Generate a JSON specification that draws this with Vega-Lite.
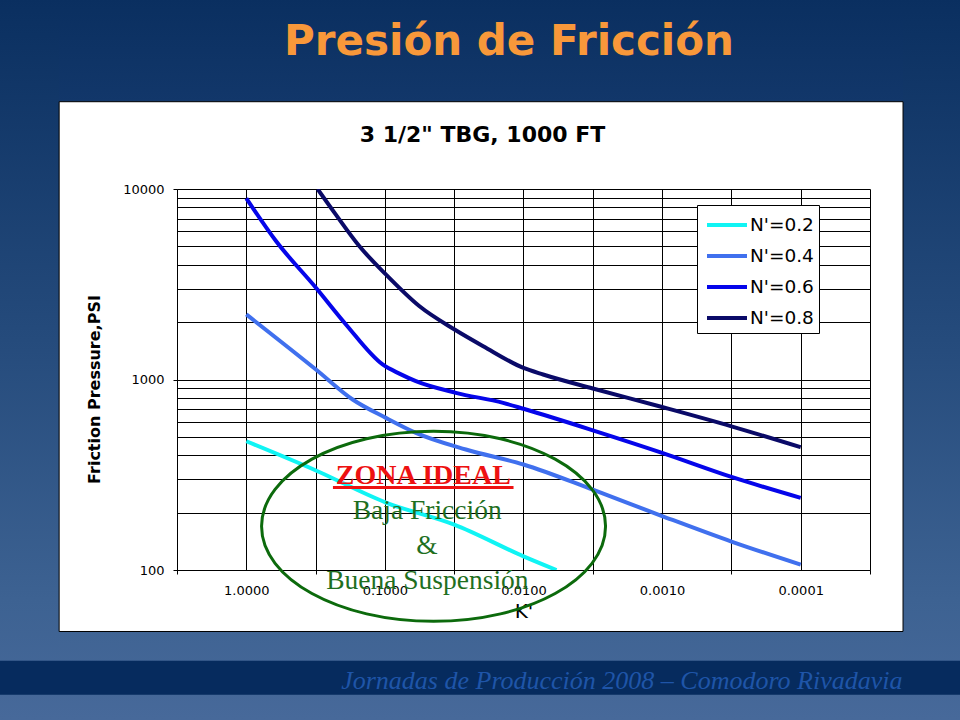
{
  "$schema": "https://vega.github.io/schema/vega-lite/v6.json",
  "width": 693,
  "height": 381,
  "autosize": {"type": "none"},
  "padding": {"left": 177, "top": 189, "right": 90, "bottom": 150},
  "background": "#ffffff",
  "config": {
    "view": {"stroke": null, "fill": null},
    "font": "DejaVu Sans",
    "axis": {"labelFont": "DejaVu Sans", "titleFont": "DejaVu Sans"}
  },
  "resolve": {"axis": {"y": "independent"}},
  "title": {
    "text": "Presión de Fricción",
    "font": "DejaVu Sans",
    "fontSize": 42,
    "fontWeight": "bold",
    "color": "#f8983a",
    "anchor": "middle",
    "frame": "group",
    "baseline": "alphabetic",
    "offset": 0,
    "dx": -14.5,
    "dy": 98,
    "zindex": 1
  },
  "layer": [
    {
      "data": {"values": [{}]},
      "mark": {
        "type": "rect", "clip": false,
        "fill": {"gradient": "linear", "x1": 0, "y1": 0, "x2": 0, "y2": 1,
          "stops": [{"offset": 0, "color": "#0a2f60"}, {"offset": 1, "color": "#12376a"}]}
      },
      "encoding": {
        "x": {"datum": 100, "type": "quantitative", "scale": {"type": "log", "domain": [0.00003162277, 3.1622777], "reverse": true, "nice": false}, "axis": null},
        "x2": {"datum": 0.000001},
        "y": {"datum": 100000, "type": "quantitative", "scale": {"type": "log", "domain": [100, 10000], "nice": false}, "axis": null},
        "y2": {"datum": 28723}
      }
    },
    {
      "data": {"values": [{}]},
      "mark": {
        "type": "rect", "clip": false,
        "fill": {"gradient": "linear", "x1": 0, "y1": 0, "x2": 0, "y2": 1,
          "stops": [{"offset": 0, "color": "#406494"}, {"offset": 0.685, "color": "#47699a"}, {"offset": 1, "color": "#4a6b9c"}]}
      },
      "encoding": {
        "x": {"datum": 100, "type": "quantitative", "scale": {"type": "log", "domain": [0.00003162277, 3.1622777], "reverse": true, "nice": false}, "axis": null},
        "x2": {"datum": 0.000001},
        "y": {"datum": 47.56, "type": "quantitative", "scale": {"type": "log", "domain": [100, 10000], "nice": false}, "axis": null},
        "y2": {"datum": 10}
      }
    },
    {
      "data": {"values": [{}]},
      "mark": {
        "type": "rect", "clip": false,
        "fill": {"gradient": "linear", "x1": 0, "y1": 0, "x2": 0, "y2": 1,
          "stops": [{"offset": 0, "color": "#0a2f60"}, {"offset": 0.4475, "color": "#254b7c"}, {"offset": 0.789, "color": "#3d6292"}, {"offset": 0.9467, "color": "#47699a"}, {"offset": 1, "color": "#4a6b9c"}]}
      },
      "encoding": {
        "x": {"datum": 100, "type": "quantitative", "scale": {"type": "log", "domain": [0.00003162277, 3.1622777], "reverse": true, "nice": false}, "axis": null},
        "x2": {"datum": 22.41},
        "y": {"datum": 100000, "type": "quantitative", "scale": {"type": "log", "domain": [100, 10000], "nice": false}, "axis": null},
        "y2": {"datum": 10}
      }
    },
    {
      "data": {"values": [{}]},
      "mark": {
        "type": "rect", "clip": false,
        "fill": {"gradient": "linear", "x1": 0, "y1": 0, "x2": 0, "y2": 1,
          "stops": [{"offset": 0, "color": "#0a2f60"}, {"offset": 0.4475, "color": "#254b7c"}, {"offset": 0.789, "color": "#3d6292"}, {"offset": 0.9467, "color": "#47699a"}, {"offset": 1, "color": "#4a6b9c"}]}
      },
      "encoding": {
        "x": {"datum": 0.00001827, "type": "quantitative", "scale": {"type": "log", "domain": [0.00003162277, 3.1622777], "reverse": true, "nice": false}, "axis": null},
        "x2": {"datum": 0.000001},
        "y": {"datum": 100000, "type": "quantitative", "scale": {"type": "log", "domain": [100, 10000], "nice": false}, "axis": null},
        "y2": {"datum": 10}
      }
    },
    {
      "data": {"values": [{}]},
      "mark": {"type": "rect", "clip": false, "fill": "#062b5e"},
      "encoding": {
        "x": {"datum": 100, "type": "quantitative", "scale": {"type": "log", "domain": [0.00003162277, 3.1622777], "reverse": true, "nice": false}, "axis": null},
        "x2": {"datum": 0.000001},
        "y": {"datum": 33.37, "type": "quantitative", "scale": {"type": "log", "domain": [100, 10000], "nice": false}, "axis": null},
        "y2": {"datum": 22.12}
      }
    },
    {
      "data": {"values": [{}]},
      "mark": {"type": "text", "clip": false, "text": "Jornadas de Producción 2008 – Comodoro Rivadavia", "font": "Liberation Serif", "fontStyle": "italic", "fontSize": 26, "color": "#1f55a8", "align": "right", "baseline": "alphabetic"},
      "encoding": {
        "x": {"datum": 0.00001842, "type": "quantitative", "scale": {"type": "log", "domain": [0.00003162277, 3.1622777], "reverse": true, "nice": false}, "axis": null},
        "y": {"datum": 23.78, "type": "quantitative", "scale": {"type": "log", "domain": [100, 10000], "nice": false}, "axis": null}
      }
    },
    {
      "data": {"values": [{}]},
      "mark": {"type": "rect", "clip": false, "fill": "transparent", "stroke": "#000000", "strokeWidth": 1},
      "encoding": {
        "x": {"datum": 22.41, "type": "quantitative", "scale": {"type": "log", "domain": [0.00003162277, 3.1622777], "reverse": true, "nice": false}, "axis": null},
        "x2": {"datum": 0.00001827},
        "y": {"datum": 28723, "type": "quantitative", "scale": {"type": "log", "domain": [100, 10000], "nice": false}, "axis": null},
        "y2": {"datum": 47.56}
      }
    },
    {
      "data": {
        "values": [
          {"series": "N'=0.2", "k": 1, "p": 474},
          {"series": "N'=0.2", "k": 0.3145, "p": 333},
          {"series": "N'=0.2", "k": 0.0984, "p": 226},
          {"series": "N'=0.2", "k": 0.0316, "p": 173},
          {"series": "N'=0.2", "k": 0.01, "p": 118},
          {"series": "N'=0.2", "k": 0.00578, "p": 100},
          {"series": "N'=0.4", "k": 1, "p": 2196},
          {"series": "N'=0.4", "k": 0.3145, "p": 1128},
          {"series": "N'=0.4", "k": 0.1709, "p": 785},
          {"series": "N'=0.4", "k": 0.0984, "p": 629},
          {"series": "N'=0.4", "k": 0.05976, "p": 525},
          {"series": "N'=0.4", "k": 0.02606, "p": 429},
          {"series": "N'=0.4", "k": 0.01, "p": 358},
          {"series": "N'=0.4", "k": 0.00316, "p": 264},
          {"series": "N'=0.4", "k": 0.001, "p": 192},
          {"series": "N'=0.4", "k": 0.000316, "p": 141},
          {"series": "N'=0.4", "k": 0.0001, "p": 106.6},
          {"series": "N'=0.6", "k": 1, "p": 8930},
          {"series": "N'=0.6", "k": 0.6107, "p": 5330},
          {"series": "N'=0.6", "k": 0.3145, "p": 3030},
          {"series": "N'=0.6", "k": 0.1911, "p": 1945},
          {"series": "N'=0.6", "k": 0.1039, "p": 1199},
          {"series": "N'=0.6", "k": 0.07793, "p": 1070},
          {"series": "N'=0.6", "k": 0.05976, "p": 980},
          {"series": "N'=0.6", "k": 0.03076, "p": 851},
          {"series": "N'=0.6", "k": 0.01403, "p": 754},
          {"series": "N'=0.6", "k": 0.01, "p": 702},
          {"series": "N'=0.6", "k": 0.00316, "p": 541},
          {"series": "N'=0.6", "k": 0.001, "p": 412},
          {"series": "N'=0.6", "k": 0.000316, "p": 308},
          {"series": "N'=0.6", "k": 0.0001, "p": 239},
          {"series": "N'=0.8", "k": 0.306, "p": 10000},
          {"series": "N'=0.8", "k": 0.2293, "p": 7450},
          {"series": "N'=0.8", "k": 0.1532, "p": 5020},
          {"series": "N'=0.8", "k": 0.0984, "p": 3560},
          {"series": "N'=0.8", "k": 0.05657, "p": 2430},
          {"series": "N'=0.8", "k": 0.03144, "p": 1830},
          {"series": "N'=0.8", "k": 0.01955, "p": 1496},
          {"series": "N'=0.8", "k": 0.01, "p": 1150},
          {"series": "N'=0.8", "k": 0.00722, "p": 1062},
          {"series": "N'=0.8", "k": 0.00316, "p": 897},
          {"series": "N'=0.8", "k": 0.001, "p": 717},
          {"series": "N'=0.8", "k": 0.000316, "p": 568},
          {"series": "N'=0.8", "k": 0.0001, "p": 441}
        ]
      },
      "mark": {"type": "line", "strokeWidth": 4, "clip": true, "interpolate": "monotone"},
      "encoding": {
        "x": {
          "field": "k",
          "type": "quantitative",
          "scale": {"type": "log", "domain": [0.00003162277, 3.1622777], "reverse": true, "nice": false},
          "axis": {
            "orient": "bottom",
            "values": [3.162277, 1, 0.3162278, 0.1, 0.03162278, 0.01, 0.003162278, 0.001, 0.0003162278, 0.0001, 0.00003162278],
            "grid": true,
            "gridColor": "#000000",
            "gridOpacity": 1,
            "gridWidth": 1,
            "domainColor": "#000000",
            "domainWidth": 1,
            "tickColor": "#000000",
            "tickSize": 4,
            "tickOpacity": {"condition": {"test": "abs(log(datum.value)/LN10 - round(log(datum.value)/LN10)) < 0.01", "value": 0}, "value": 1},
            "labelExpr": "abs(log(datum.value)/LN10 - round(log(datum.value)/LN10)) < 0.01 ? format(datum.value, '.4f') : ''",
            "labelFontSize": 13,
            "labelColor": "#000000",
            "labelPadding": 10,
            "labelOverlap": false,
            "labelFlush": false,
            "labelBound": false,
            "title": "K'",
            "titleFontSize": 20,
            "titleFontWeight": "normal",
            "titleColor": "#000000",
            "titlePadding": 4
          }
        },
        "y": {
          "field": "p",
          "type": "quantitative",
          "scale": {"type": "log", "domain": [100, 10000], "nice": false},
          "axis": {
            "orient": "left",
            "values": [100, 200, 300, 400, 500, 600, 700, 800, 900, 1000, 2000, 3000, 4000, 5000, 6000, 7000, 8000, 9000, 10000],
            "grid": true,
            "gridColor": "#000000",
            "gridOpacity": 1,
            "gridWidth": 1,
            "domainColor": "#000000",
            "tickColor": "#000000",
            "tickSize": 4,
            "tickOpacity": {"condition": {"test": "abs(log(datum.value)/LN10 - round(log(datum.value)/LN10)) < 0.01", "value": 1}, "value": 0},
            "labelExpr": "abs(log(datum.value)/LN10 - round(log(datum.value)/LN10)) < 0.01 ? format(datum.value, 'd') : ''",
            "labelFontSize": 13,
            "labelColor": "#000000",
            "labelPadding": 9,
            "labelOverlap": false,
            "labelBound": false,
            "title": "Friction Pressure,PSI",
            "titleFontSize": 16,
            "titleFontWeight": "bold",
            "titleColor": "#000000",
            "titlePadding": 20,
            "titleY": 200
          }
        },
        "color": {
          "field": "series",
          "type": "nominal",
          "scale": {"domain": ["N'=0.2", "N'=0.4", "N'=0.6", "N'=0.8"], "range": ["#10f4f4", "#4070ee", "#0505ea", "#0a0a68"]},
          "legend": {
            "orient": "none",
            "legendX": 520,
            "legendY": 16,
            "title": null,
            "fillColor": "#ffffff",
            "strokeColor": "#000000",
            "padding": 5,
            "symbolType": "M-1.538,0H1.538",
            "symbolSize": 676,
            "symbolStrokeWidth": 4,
            "symbolFillColor": "transparent",
            "symbolOffset": 10,
            "labelFont": "DejaVu Sans",
            "labelFontSize": 18.5,
            "labelColor": "#000000",
            "labelOffset": 8,
            "rowPadding": 6
          }
        }
      }
    },
    {
      "data": {"values": [{}]},
      "mark": {"type": "point", "clip": false, "shape": "M-1,0A1,0.5523,0,1,1,1,0A1,0.5523,0,1,1,-1,0Z", "size": 118336, "filled": false, "stroke": "#0c6a0c", "strokeWidth": 3, "opacity": 1},
      "encoding": {
        "x": {"datum": 0.04456, "type": "quantitative", "scale": {"type": "log", "domain": [0.00003162277, 3.1622777], "reverse": true, "nice": false}, "axis": null},
        "y": {"datum": 169.5, "type": "quantitative", "scale": {"type": "log", "domain": [100, 10000], "nice": false}, "axis": null}
      }
    },
    {
      "data": {"values": [{}]},
      "mark": {"type": "rule", "clip": false, "color": "#ee1111", "strokeWidth": 3},
      "encoding": {
        "x": {"datum": 0.2371, "type": "quantitative", "scale": {"type": "log", "domain": [0.00003162277, 3.1622777], "reverse": true, "nice": false}, "axis": null},
        "x2": {"datum": 0.0118},
        "y": {"datum": 270.7, "type": "quantitative", "scale": {"type": "log", "domain": [100, 10000], "nice": false}, "axis": null}
      }
    },
    {
      "data": {"values": [{}]},
      "mark": {"type": "text", "clip": false, "text": "ZONA IDEAL", "font": "Liberation Serif", "fontWeight": "bold", "fontSize": 28, "color": "#ee1111", "align": "center", "baseline": "alphabetic"},
      "encoding": {
        "x": {
          "datum": 0.05278,
          "type": "quantitative",
          "scale": {"type": "log", "domain": [0.00003162277, 3.1622777], "reverse": true, "nice": false},
          "axis": {
            "orient": "top",
            "title": "3 1/2\" TBG, 1000 FT",
            "labels": false,
            "ticks": false,
            "domain": false,
            "grid": false,
            "titleFont": "DejaVu Sans",
            "titleFontSize": 22,
            "titleFontWeight": "bold",
            "titleColor": "#000000",
            "titleX": 305,
            "titleY": -48,
            "titleAlign": "center",
            "titleBaseline": "alphabetic"
          }
        },
        "y": {"datum": 283, "type": "quantitative", "scale": {"type": "log", "domain": [100, 10000], "nice": false}, "axis": null}
      }
    },
    {
      "data": {
        "values": [
          {"label": "Baja Fricción", "k": 0.04955, "p": 185.4},
          {"label": "&", "k": 0.0497, "p": 121.4},
          {"label": "Buena Suspensión", "k": 0.0494, "p": 79.75}
        ]
      },
      "mark": {"type": "text", "clip": false, "font": "Liberation Serif", "fontSize": 27.5, "color": "#1f6f1f", "align": "center", "baseline": "alphabetic"},
      "encoding": {
        "x": {"field": "k", "type": "quantitative", "scale": {"type": "log", "domain": [0.00003162277, 3.1622777], "reverse": true, "nice": false}, "axis": null},
        "y": {"field": "p", "type": "quantitative", "scale": {"type": "log", "domain": [100, 10000], "nice": false}, "axis": null},
        "text": {"field": "label", "type": "nominal"}
      }
    }
  ]
}
